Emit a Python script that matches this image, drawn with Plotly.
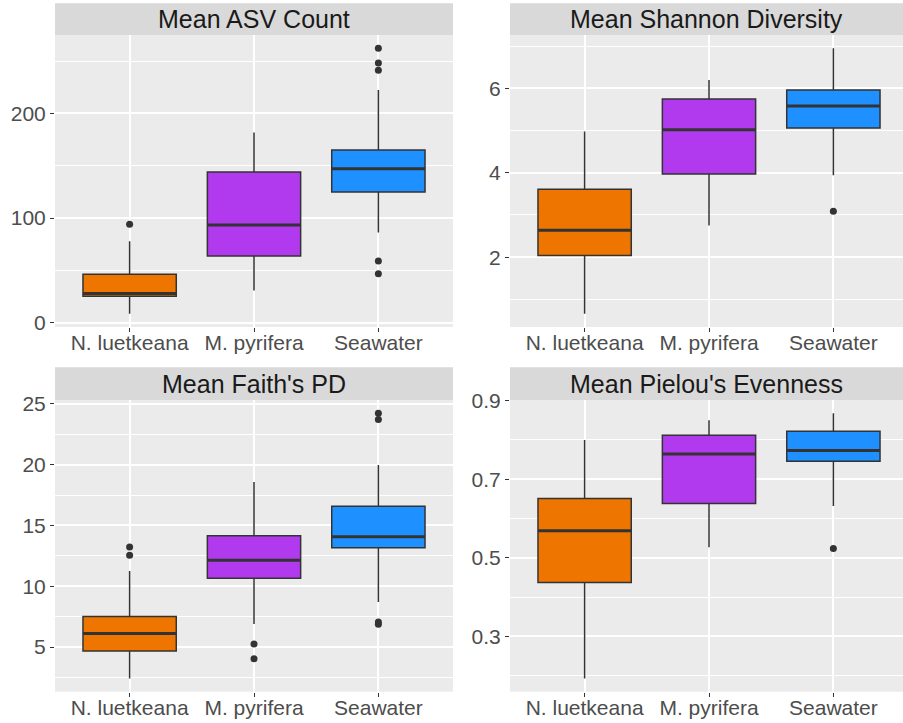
import plotly.graph_objects as go

# Sample groups and their fill colours
groups = ["N. luetkeana", "M. pyrifera", "Seawater"]
group_colors = ["#EE7600", "#B23AEE", "#1E90FF"]

# Mean ASV Count: box statistics per group
asv_lower = [8.6, 30.9, 86.1]
asv_q1 = [25.2, 63.7, 125.0]
asv_median = [28.0, 93.4, 147.0]
asv_q3 = [46.2, 144.0, 164.9]
asv_upper = [77.8, 181.8, 222.3]
asv_outliers = [[94.0], [], [262.2, 248.1, 241.1, 59.0, 46.9]]

# Mean Shannon Diversity
shannon_lower = [0.66, 2.75, 3.94]
shannon_q1 = [2.04, 3.97, 5.06]
shannon_median = [2.64, 5.02, 5.58]
shannon_q3 = [3.61, 5.75, 5.96]
shannon_upper = [4.98, 6.20, 6.95]
shannon_outliers = [[], [], [3.09]]

# Mean Faith's PD
faith_lower = [2.42, 6.89, 8.70]
faith_q1 = [4.67, 10.65, 13.17]
faith_median = [6.12, 12.13, 14.07]
faith_q3 = [7.52, 14.15, 16.57]
faith_upper = [11.25, 18.57, 19.97]
faith_outliers = [[13.22, 12.54], [5.25, 4.04], [24.22, 23.70, 7.06, 6.87]]

# Mean Pielou's Evenness
pielou_lower = [0.193, 0.527, 0.632]
pielou_q1 = [0.437, 0.638, 0.746]
pielou_median = [0.569, 0.764, 0.773]
pielou_q3 = [0.651, 0.812, 0.822]
pielou_upper = [0.800, 0.850, 0.868]
pielou_outliers = [[], [], [0.524]]

# Panel titles and y tick values
titles = ["Mean ASV Count", "Mean Shannon Diversity", "Mean Faith's PD", "Mean Pielou's Evenness"]
asv_ticks = [0, 100, 200]
shannon_ticks = [2, 4, 6]
faith_ticks = [5, 10, 15, 20, 25]
pielou_ticks = [0.3, 0.5, 0.7, 0.9]

panels = [
    dict(title=titles[0], lower=asv_lower, q1=asv_q1, median=asv_median, q3=asv_q3,
         upper=asv_upper, outliers=asv_outliers, ticks=asv_ticks, ticktext=None,
         minor=[50, 150, 250]),
    dict(title=titles[1], lower=shannon_lower, q1=shannon_q1, median=shannon_median, q3=shannon_q3,
         upper=shannon_upper, outliers=shannon_outliers, ticks=shannon_ticks, ticktext=None,
         minor=[1, 3, 5, 7]),
    dict(title=titles[2], lower=faith_lower, q1=faith_q1, median=faith_median, q3=faith_q3,
         upper=faith_upper, outliers=faith_outliers, ticks=faith_ticks, ticktext=None,
         minor=[2.5, 7.5, 12.5, 17.5, 22.5]),
    dict(title=titles[3], lower=pielou_lower, q1=pielou_q1, median=pielou_median, q3=pielou_q3,
         upper=pielou_upper, outliers=pielou_outliers, ticks=pielou_ticks,
         ticktext=[f"{v:.1f}" for v in pielou_ticks], minor=[0.2, 0.4, 0.6, 0.8]),
]

W, H = 903, 723
BOX_W = 0.75
INK = "#333333"

# Panel geometry in pixels: (left, right, plot_top, plot_bottom, strip_top)
geom = [
    (55, 453, 35, 327, 3.3),
    (510, 903, 35, 327, 3.3),
    (55, 453, 400, 691.7, 367.3),
    (510, 903, 400, 691.7, 367.3),
]
CAT_SPAN = (453 - 55) / 3.2  # pixels per category

fig = go.Figure()
layout = dict(shapes=[], annotations=[])

for k, (p, g) in enumerate(zip(panels, geom)):
    n = "" if k == 0 else str(k + 1)
    xa, ya = "x" + n, "y" + n
    left, right, top, bottom, stop = g

    for i, grp in enumerate(groups):
        fig.add_trace(go.Box(
            x=[i], q1=[p["q1"][i]], median=[p["median"][i]], q3=[p["q3"][i]],
            lowerfence=[p["lower"][i]], upperfence=[p["upper"][i]],
            width=BOX_W, fillcolor=group_colors[i],
            line=dict(color=INK, width=1.5), whiskerwidth=0,
            boxpoints=False, name=grp, showlegend=False,
            xaxis=xa, yaxis=ya,
        ))
        if p["outliers"][i]:
            fig.add_trace(go.Scatter(
                x=[i] * len(p["outliers"][i]), y=p["outliers"][i], mode="markers",
                marker=dict(color=INK, size=7), showlegend=False,
                xaxis=xa, yaxis=ya, hoverinfo="y",
            ))

    # thicker median bars
    mx, my = [], []
    for i, m in enumerate(p["median"]):
        mx += [i - BOX_W / 2, i + BOX_W / 2, None]
        my += [m, m, None]
    fig.add_trace(go.Scatter(x=mx, y=my, mode="lines", line=dict(color=INK, width=3),
                             showlegend=False, hoverinfo="skip", xaxis=xa, yaxis=ya))

    # y range with 5% expansion of data extent
    vals = p["lower"] + p["upper"] + [v for o in p["outliers"] for v in o]
    lo, hi = min(vals), max(vals)
    pad = (hi - lo) * 0.05
    yr = [lo - pad, hi + pad]

    xr_max = -0.6 + (right - left) / CAT_SPAN
    layout["xaxis" + n] = dict(
        domain=[left / W, right / W], anchor=ya, range=[-0.6, xr_max],
        tickvals=[0, 1, 2], ticktext=groups, showgrid=True, gridcolor="white",
        gridwidth=1.5, zeroline=False, showline=False, ticks="outside", ticklen=4,
        tickwidth=1, tickcolor=INK, tickfont=dict(size=21, color="#4D4D4D"),
        ticklabelstandoff=-7,
        fixedrange=True, automargin=False,
    )
    ydict = dict(
        domain=[1 - bottom / H, 1 - top / H], anchor=xa, range=yr,
        tickvals=p["ticks"], showgrid=True, gridcolor="white", gridwidth=1.5,
        zeroline=False, showline=False, ticks="outside", ticklen=4, tickwidth=1,
        tickcolor=INK, tickfont=dict(size=21, color="#4D4D4D"),
        minor=dict(tickvals=p["minor"], showgrid=True, gridcolor="white", gridwidth=0.8,
                   ticks=""),
        fixedrange=True, automargin=False,
    )
    if p["ticktext"]:
        ydict["ticktext"] = p["ticktext"]
    layout["yaxis" + n] = ydict

    # facet strip
    layout["shapes"].append(dict(
        type="rect", xref="paper", yref="paper", x0=left / W, x1=right / W,
        y0=1 - top / H, y1=1 - stop / H, fillcolor="#D9D9D9", line=dict(width=0), layer="below",
    ))
    layout["annotations"].append(dict(
        text=p["title"], xref="paper", yref="paper",
        x=((left + right) / 2) / W, y=1 - ((top + stop) / 2) / H,
        xanchor="center", yanchor="middle", showarrow=False,
        font=dict(size=25, color="#1A1A1A"),
    ))

fig.update_layout(
    width=W, height=H, margin=dict(l=0, r=0, t=0, b=0, pad=0, autoexpand=False),
    paper_bgcolor="white", plot_bgcolor="#EBEBEB",
    font=dict(family="Liberation Sans, Arial, sans-serif"),
    boxmode="overlay", showlegend=False,
    **layout,
)

fig.write_html("out.html")
